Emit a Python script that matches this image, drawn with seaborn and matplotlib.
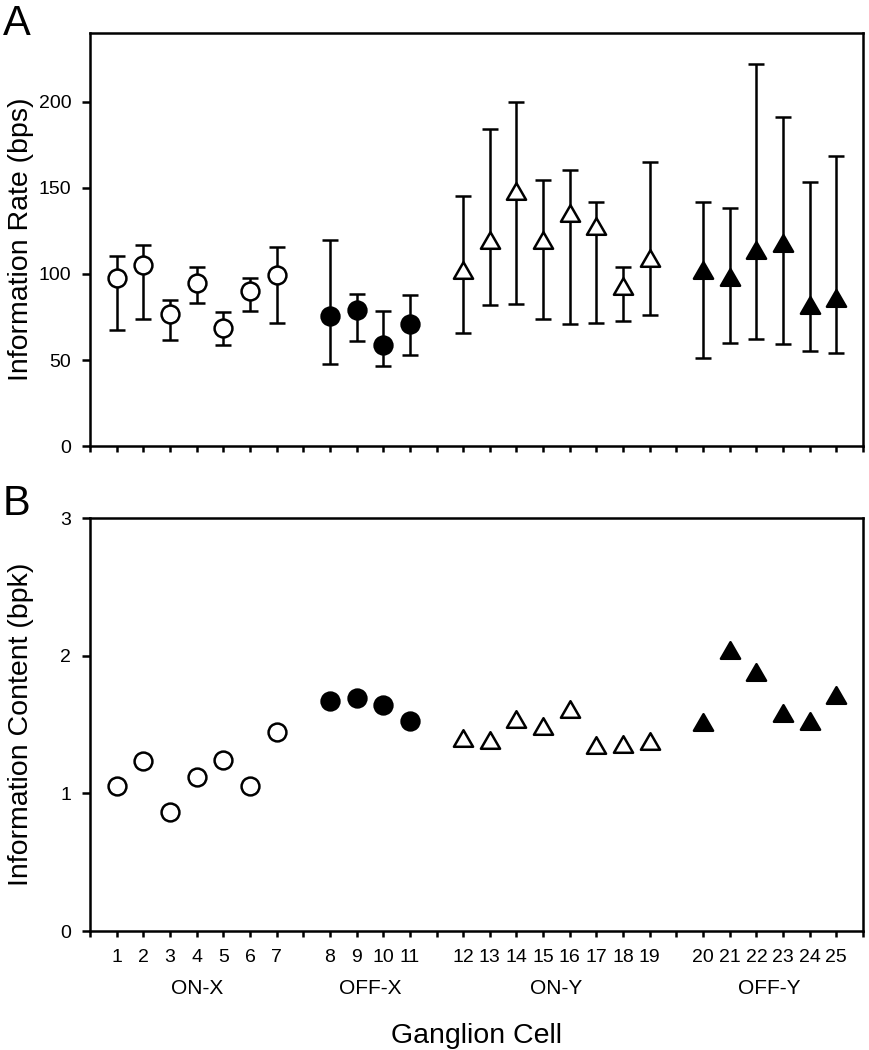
"""
Information rate and information content of ganglion cells (panels A and B).
Output: out.png
"""

import numpy as np
import pandas as pd
import matplotlib
matplotlib.use('Agg')
import matplotlib.pyplot as plt
import matplotlib.transforms as mtransforms
from matplotlib.path import Path
import seaborn as sns

# ---- data ----
cells = list(range(1, 26))
cell_types = ['ON-X'] * 7 + ['OFF-X'] * 4 + ['ON-Y'] * 8 + ['OFF-Y'] * 6
group_order = ['ON-X', 'OFF-X', 'ON-Y', 'OFF-Y']

info_rate = [97.6, 105.0, 76.6, 94.5, 68.5, 90.2, 99.4,
             75.6, 79.1, 58.7, 71.0,
             102.4, 119.5, 148.1, 119.5, 135.5, 127.7, 93.1, 109.0,
             102.4, 98.0, 113.7, 118.0, 82.0, 86.0]
rate_upper = [110.6, 117.0, 84.8, 104.0, 77.8, 97.4, 115.7,
              119.9, 88.6, 78.4, 87.5,
              145.2, 184.5, 199.7, 154.7, 160.2, 141.7, 104.2, 165.0,
              141.9, 138.4, 222.2, 191.1, 153.6, 168.5]
rate_lower = [67.3, 73.9, 61.6, 83.2, 58.5, 78.7, 71.7,
              47.6, 61.0, 46.3, 52.9,
              65.5, 82.2, 82.6, 73.7, 70.8, 71.7, 72.9, 76.4,
              51.1, 59.7, 62.2, 59.5, 55.0, 53.9]
info_content = [1.052, 1.235, 0.865, 1.119, 1.241, 1.052, 1.449,
                1.669, 1.691, 1.640, 1.524,
                1.405, 1.391, 1.541, 1.488, 1.611, 1.355, 1.362, 1.381,
                1.517, 2.040, 1.880, 1.584, 1.524, 1.713]

# ---- styling ----
sns.set_theme(style='ticks')
plt.rcParams.update({
    'font.family': ['Liberation Sans', 'DejaVu Sans'],
    'axes.linewidth': 1.8,
    'axes.edgecolor': 'black',
    'xtick.color': 'black',
    'ytick.color': 'black',
    'text.color': 'black',
    'axes.labelcolor': 'black',
})

# equilateral triangle, closed so the outline is drawn all round
tri = Path([(-1, -0.866), (1, -0.866), (0, 0.866), (-1, -0.866)], closed=True)
group_style = {
    'ON-X': dict(marker='o', color='white', s=165),
    'OFF-X': dict(marker='o', color='black', s=165),
    'ON-Y': dict(marker=tri, color='white', s=190),
    'OFF-Y': dict(marker=tri, color='black', s=190),
}

df = pd.DataFrame({
    'cell': cells,
    'type': cell_types,
    'rate': info_rate,
    'upper': rate_upper,
    'lower': rate_lower,
    'content': info_content,
})
# one empty slot between cell classes
df['pos'] = df['cell'] + df['type'].map({g: i for i, g in enumerate(group_order)})

fig = plt.figure(figsize=(8.69, 10.5), dpi=100)
ax_a = fig.add_axes([0.1036, 0.5752, 0.8895, 0.3933])
ax_b = fig.add_axes([0.1036, 0.1133, 0.8895, 0.3933])


def draw_points(ax, ycol):
    for g in group_order:
        sub = df[df['type'] == g]
        st = group_style[g]
        sns.scatterplot(data=sub, x='pos', y=ycol, ax=ax, marker=st['marker'],
                        color=st['color'], s=st['s'], edgecolor='black',
                        linewidth=1.8, zorder=3, legend=False)


def style_axes(ax, show_labels):
    ax.set_xlim(0, 29)
    ax.set_xticks(np.arange(0, 30))
    if show_labels:
        lab = {p: str(c) for p, c in zip(df['pos'], df['cell'])}
        ax.set_xticklabels([lab.get(i, '') for i in range(30)])
    else:
        ax.set_xticklabels([])
    ax.tick_params(axis='x', direction='out', length=4.5, width=1.8,
                   labelsize=14, pad=8.5)
    ax.tick_params(axis='y', direction='out', length=5.5, width=1.8,
                   labelsize=14, pad=8)
    for sp in ax.spines.values():
        sp.set_visible(True)
        sp.set_linewidth(1.8)
    ax.set_xlabel('')


# Panel A: information rate with ranges
ax_a.errorbar(df['pos'], df['rate'],
              yerr=[df['rate'] - df['lower'], df['upper'] - df['rate']],
              fmt='none', ecolor='black', elinewidth=1.8, capsize=5.8,
              capthick=1.8, zorder=2)
draw_points(ax_a, 'rate')
style_axes(ax_a, False)
ax_a.set_ylim(0, 240)
ax_a.set_yticks([0, 50, 100, 150, 200])
ax_a.set_ylabel('Information Rate (bps)', fontsize=20.5)
ax_a.yaxis.set_label_coords(-0.072, 0.5)

# Panel B: information content
draw_points(ax_b, 'content')
style_axes(ax_b, True)
ax_b.set_ylim(0, 3)
ax_b.set_yticks([0, 1, 2, 3])
ax_b.set_ylabel('Information Content (bpk)', fontsize=20.5)
ax_b.yaxis.set_label_coords(-0.072, 0.5)
ax_b.set_xlabel('Ganglion Cell', fontsize=20.5, va='top')
ax_b.xaxis.set_label_coords(0.5, -0.222)

# class names under the tick numbers
trans = mtransforms.blended_transform_factory(ax_b.transData, ax_b.transAxes)
for g in group_order:
    center = df.loc[df['type'] == g, 'pos'].mean()
    ax_b.text(center, -0.14, g, transform=trans, ha='center', va='center',
              fontsize=15)

fig.text(0.0035, 1 - 35 / 1050, 'A', fontsize=30, ha='left', va='baseline')
fig.text(0.0035, 1 - 515 / 1050, 'B', fontsize=30, ha='left', va='baseline')

fig.savefig('out.png', dpi=100, facecolor='white')
